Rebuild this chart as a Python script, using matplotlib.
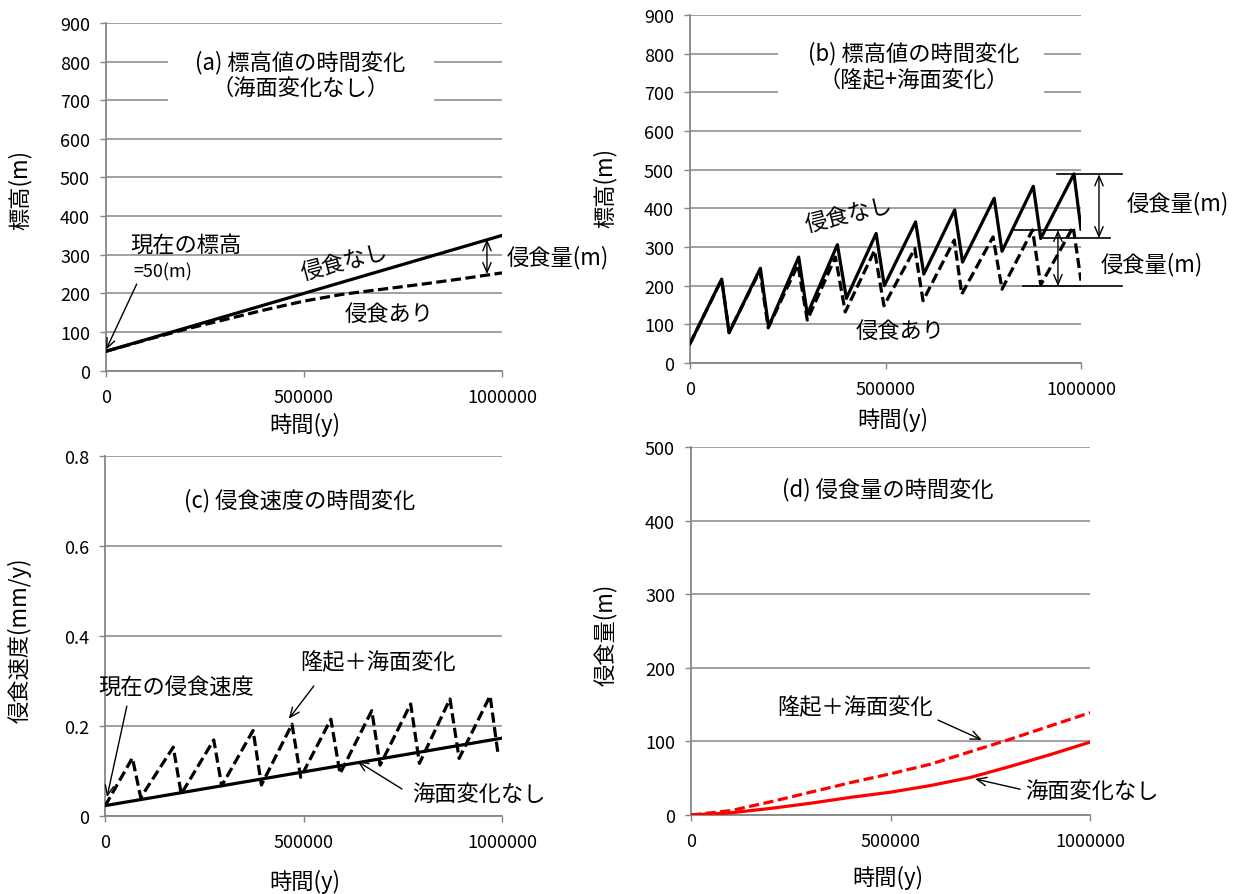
import matplotlib
matplotlib.use("Agg")
import matplotlib.pyplot as plt
from matplotlib.patches import Rectangle

plt.rcParams['font.family'] = ['Noto Sans CJK JP', 'DejaVu Sans']

W, H = 1239, 895
GRAY = '#868686'
RED = '#ff0000'

# (a) elevation, no sea-level change
time_a = [0, 100000, 200000, 300000, 400000, 500000, 600000, 700000, 800000, 900000, 1000000]
elev_no_erosion_a = [50, 80, 110, 140, 170, 200, 230, 260, 290, 320, 350]
elev_erosion_a = [50, 79, 107, 132, 157, 180, 198, 211, 224, 238, 253]

# (b) elevation, uplift + sea-level change
time_b = [0, 81000, 100000, 180000, 201000, 278000, 300000, 377000, 400000, 476000,
          497000, 577000, 598000, 677000, 697000, 778000, 798000, 878000, 897000, 982000, 1000000]
elev_no_erosion_b = [50, 217, 78, 245, 94, 274, 126, 306, 167, 335,
                     200, 365, 230, 396, 261, 426, 289, 457, 322, 489, 346]
time_b2 = [0, 81000, 100000, 179000, 200000, 276000, 300000, 372000, 397000, 472000,
           496000, 575000, 596000, 676000, 695000, 775000, 798000, 876000, 897000, 980000, 1000000]
elev_erosion_b = [50, 216, 80, 239, 91, 254, 111, 274, 132, 291,
                  148, 296, 161, 318, 178, 326, 191, 344, 202, 352, 213]

# (c) erosion rate
time_c = [0, 1000000]
rate_no_sea = [0.023, 0.173]
time_c2 = [0, 69000, 90000, 172000, 192000, 274000, 294000, 373000, 394000, 471000,
           493000, 569000, 592000, 672000, 693000, 770000, 792000, 869000, 892000, 970000, 990000]
rate_uplift_sea = [0.022, 0.129, 0.041, 0.153, 0.049, 0.169, 0.067, 0.190, 0.069, 0.204,
                   0.086, 0.215, 0.094, 0.234, 0.113, 0.249, 0.117, 0.260, 0.128, 0.267, 0.138]

# (d) cumulative erosion
time_d = [0, 100000, 200000, 300000, 400000, 500000, 600000, 700000, 800000, 900000, 1000000]
erosion_no_sea = [0, 3, 9, 16, 24, 31, 40, 51, 66, 82, 99]
erosion_uplift_sea = [0, 6, 18, 31, 44, 56, 69, 86, 103, 121, 139]

x_ticks = [0, 500000, 1000000]
x_ticklabels = ['0', '500000', '1000000']


def rect(l, t, r, b):
    return [l / W, 1 - b / H, (r - l) / W, (b - t) / H]


def style(ax, ymax, ystep, ylabels=None):
    ax.set_xlim(0, 1000000)
    ax.set_ylim(0, ymax)
    ax.set_xticks(x_ticks)
    ax.set_xticklabels(x_ticklabels)
    yt = [i * ystep for i in range(int(round(ymax / ystep)) + 1)]
    ax.set_yticks(yt)
    if ylabels is not None:
        ax.set_yticklabels(ylabels)
    for s in ['top', 'right']:
        ax.spines[s].set_visible(False)
    for s in ['left', 'bottom']:
        ax.spines[s].set_color(GRAY)
        ax.spines[s].set_linewidth(1.3)
    ax.yaxis.grid(True, color=GRAY, lw=1.1)
    ax.set_axisbelow(True)
    ax.tick_params(direction='out', length=4.5, width=1, color=GRAY,
                   labelsize=13, labelcolor='black')
    ax.tick_params(axis='y', pad=7)
    ax.tick_params(axis='x', pad=8)


def arrow(ax, start, end, style='->', lw=1.0):
    ax.annotate('', xy=end, xytext=start, annotation_clip=False,
                arrowprops=dict(arrowstyle=style + ',head_length=0.7,head_width=0.3',
                                color='black', lw=lw, shrinkA=0, shrinkB=0))


fig = plt.figure(figsize=(W / 100, H / 100), dpi=100)
ax_a = fig.add_axes(rect(106, 24, 502, 371.6))
ax_b = fig.add_axes(rect(690, 16, 1081, 364))
ax_c = fig.add_axes(rect(105, 457, 502, 817))
ax_d = fig.add_axes(rect(691, 448, 1090, 816))

LW = 2.3
DASH = (3.2, 1.4)

# (a)
style(ax_a, 900, 100)
ax_a.plot(time_a, elev_no_erosion_a, color='black', lw=LW, zorder=3)
ax_a.plot(time_a, elev_erosion_a, color='black', lw=LW, dashes=DASH, zorder=3)
ax_a.add_patch(Rectangle((157000, 665), 671000, 181, facecolor='white',
                         edgecolor='none', zorder=1))
ax_a.text(490000, 768, '(a) 標高値の時間変化\n（海面変化なし）', ha='center', va='center',
          fontsize=16, linespacing=1.15, zorder=4)
ax_a.text(61000, 328, '現在の標高', fontsize=16, va='center')
ax_a.text(68000, 258, '=50(m)', fontsize=13, va='center')
arrow(ax_a, (77500, 224), (0, 54))
ax_a.text(601000, 284, '侵食なし', fontsize=16, ha='center', va='center', rotation=15)
ax_a.text(715000, 149, '侵食あり', fontsize=16, ha='center', va='center')
arrow(ax_a, (962000, 340), (962000, 250), style='<->')
ax_a.text(1013000, 294, '侵食量(m)', fontsize=16, va='center', clip_on=False)

# (b)
style(ax_b, 900, 100)
ax_b.plot(time_b, elev_no_erosion_b, color='black', lw=LW, zorder=3)
ax_b.plot(time_b2, elev_erosion_b, color='black', lw=LW, dashes=DASH, zorder=3)
ax_b.add_patch(Rectangle((225000, 657), 680000, 186, facecolor='white',
                         edgecolor='none', zorder=1))
ax_b.text(572000, 770, '(b) 標高値の時間変化\n（隆起+海面変化）', ha='center', va='center',
          fontsize=16, linespacing=1.15, zorder=4)
ax_b.text(407000, 385, '侵食なし', fontsize=16, ha='center', va='center', rotation=14)
ax_b.text(537000, 85, '侵食あり', fontsize=16, ha='center', va='center')
for x0, x1, y in [(939000, 1105000, 488), (903000, 1074000, 323),
                  (826000, 977000, 344), (852000, 1105000, 199)]:
    ax_b.plot([x0, x1], [y, y], color='black', lw=1.2, clip_on=False, zorder=3)
arrow(ax_b, (1046000, 488), (1046000, 323), style='<->')
arrow(ax_b, (941000, 344), (941000, 199), style='<->')
ax_b.text(1118000, 416, '侵食量(m)', fontsize=16, va='center', clip_on=False)
ax_b.text(1051000, 256, '侵食量(m)', fontsize=16, va='center', clip_on=False)

# (c)
style(ax_c, 0.8, 0.2, ['0', '0.2', '0.4', '0.6', '0.8'])
ax_c.plot(time_c, rate_no_sea, color='black', lw=LW, zorder=3)
ax_c.plot(time_c2, rate_uplift_sea, color='black', lw=LW, dashes=DASH, zorder=3)
ax_c.text(491000, 0.704, '(c) 侵食速度の時間変化', ha='center', va='center', fontsize=16)
ax_c.text(-18000, 0.287, '現在の侵食速度', fontsize=16, va='center', clip_on=False)
arrow(ax_c, (55000, 0.244), (5000, 0.042))
ax_c.text(491000, 0.342, '隆起＋海面変化', fontsize=16, va='center')
arrow(ax_c, (526000, 0.289), (463000, 0.216))
ax_c.text(773000, 0.049, '海面変化なし', fontsize=16, va='center', clip_on=False)
arrow(ax_c, (748000, 0.06), (635000, 0.122))

# (d)
style(ax_d, 500, 100)
ax_d.plot(time_d, erosion_no_sea, color=RED, lw=LW, zorder=3)
ax_d.plot(time_d, erosion_uplift_sea, color=RED, lw=LW, dashes=DASH, zorder=3)
ax_d.text(494000, 443, '(d) 侵食量の時間変化', ha='center', va='center', fontsize=16)
ax_d.text(216000, 147, '隆起＋海面変化', fontsize=16, va='center')
arrow(ax_d, (619000, 129), (729000, 102))
ax_d.text(837000, 33, '海面変化なし', fontsize=16, va='center', clip_on=False)
arrow(ax_d, (825000, 35), (712000, 49))

# axis titles
def ftext(x, y, s, rot=0):
    fig.text(x / W, 1 - y / H, s, ha='center', va='center', rotation=rot, fontsize=16)

ftext(20, 190, '標高(m)', 90)
ftext(605, 188, '標高(m)', 90)
ftext(20, 640, '侵食速度(mm/y)', 90)
ftext(605, 635, '侵食量(m)', 90)
ftext(305, 425, '時間(y)')
ftext(893, 420, '時間(y)')
ftext(305, 882, '時間(y)')
ftext(888, 878, '時間(y)')

fig.savefig('out.png', dpi=100)
